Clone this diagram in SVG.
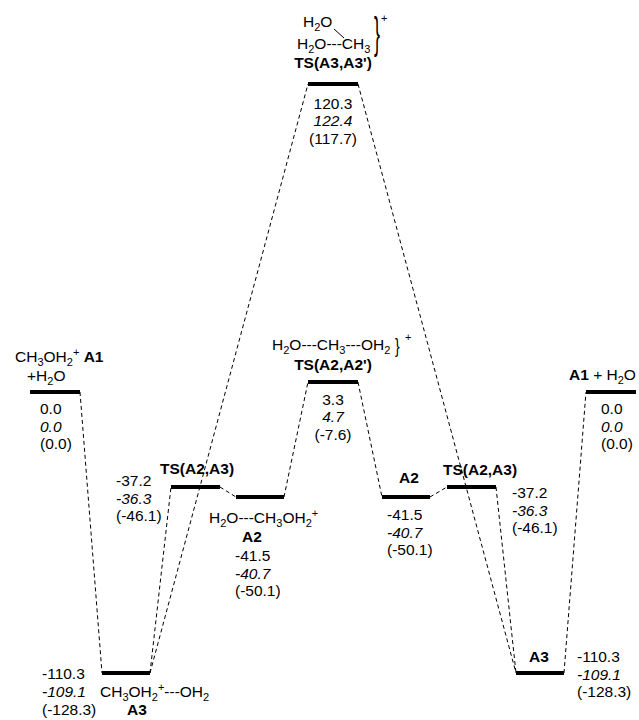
<svg xmlns="http://www.w3.org/2000/svg" width="639" height="720" viewBox="0 0 639 720">
<style>
text{font-family:"Liberation Sans",Arial,sans-serif;font-size:15.5px;fill:#000}
.b{font-weight:bold}
.i{font-style:italic}
.s{font-size:11px}
.m{text-anchor:middle}
.bar{stroke:#000;stroke-width:4;fill:none}
.d{stroke:#000;stroke-width:1;stroke-dasharray:4,3;fill:none}
</style>
<rect width="639" height="720" fill="#fff"/>
<g id="connectors">
<line class="d" x1="80" y1="392" x2="102" y2="673"/>
<line class="d" x1="150" y1="673" x2="171" y2="487"/>
<line class="d" x1="150" y1="673" x2="308" y2="84"/>
<line class="d" x1="220" y1="487" x2="236" y2="497"/>
<line class="d" x1="284" y1="497" x2="308" y2="382"/>
<line class="d" x1="358" y1="382" x2="382" y2="497"/>
<line class="d" x1="430" y1="497" x2="447" y2="487"/>
<line class="d" x1="496" y1="487" x2="516" y2="673"/>
<line class="d" x1="358" y1="84" x2="516" y2="673"/>
<line class="d" x1="564" y1="673" x2="586" y2="392"/>
</g>
<g id="A1-left">
<line class="bar" x1="30" y1="392" x2="80" y2="392"/>
<text x="15" y="362">CH<tspan class="s" dy="4">3</tspan><tspan dy="-4">OH</tspan><tspan class="s" dy="4">2</tspan><tspan class="s" dy="-10">+</tspan><tspan dy="6"> </tspan><tspan class="b">A1</tspan></text>
<text x="27" y="381">+H<tspan class="s" dy="4">2</tspan><tspan dy="-4">O</tspan></text>
<text x="40" y="414">0.0</text>
<text x="40" y="431.5" class="i">0.0</text>
<text x="40" y="449">(0.0)</text>
</g>
<g id="TS-A2-A3-left">
<line class="bar" x1="171" y1="487" x2="220" y2="487"/>
<text x="160" y="474" class="b">TS(A2,A3)</text>
<text x="116" y="486">-37.2</text>
<text x="116" y="503.5" class="i">-36.3</text>
<text x="116" y="521">(-46.1)</text>
</g>
<g id="A2-left">
<line class="bar" x1="236" y1="497" x2="284" y2="497"/>
<text x="209" y="523">H<tspan class="s" dy="4">2</tspan><tspan dy="-4">O---CH</tspan><tspan class="s" dy="4">3</tspan><tspan dy="-4">OH</tspan><tspan class="s" dy="4">2</tspan><tspan class="s" dy="-10">+</tspan></text>
<text x="252" y="542" class="b m">A2</text>
<text x="235" y="561">-41.5</text>
<text x="235" y="578.5" class="i">-40.7</text>
<text x="235" y="596">(-50.1)</text>
</g>
<g id="A3-left">
<line class="bar" x1="102" y1="673" x2="150" y2="673"/>
<text x="42" y="679">-110.3</text>
<text x="42" y="697" class="i">-109.1</text>
<text x="42" y="715">(-128.3)</text>
<text x="100" y="697">CH<tspan class="s" dy="4">3</tspan><tspan dy="-4">OH</tspan><tspan class="s" dy="4">2</tspan><tspan class="s" dy="-10">+</tspan><tspan dy="6">---OH</tspan><tspan class="s" dy="4">2</tspan></text>
<text x="127" y="715" class="b">A3</text>
</g>
<g id="TS-A3-A3p">
<line class="bar" x1="308" y1="84" x2="358" y2="84"/>
<text x="303" y="27">H<tspan class="s" dy="4">2</tspan><tspan dy="-4">O</tspan></text>
<text x="297" y="49">H<tspan class="s" dy="4">2</tspan><tspan dy="-4">O---CH</tspan><tspan class="s" dy="4">3</tspan></text>
<line x1="334" y1="29" x2="344" y2="38" stroke="#000" stroke-width="1"/>
<text transform="translate(374,48) scale(0.4,1)" style="font-size:45px">}</text>
<text x="381" y="22" class="s">+</text>
<text x="333" y="68" class="b m">TS(A3,A3')</text>
<text x="333" y="108.5" class="m">120.3</text>
<text x="333" y="126" class="m i">122.4</text>
<text x="333" y="143.5" class="m">(117.7)</text>
</g>
<g id="TS-A2-A2p">
<line class="bar" x1="308" y1="382" x2="358" y2="382"/>
<text x="272" y="350">H<tspan class="s" dy="4">2</tspan><tspan dy="-4">O---CH</tspan><tspan class="s" dy="4">3</tspan><tspan dy="-4">---OH</tspan><tspan class="s" dy="4">2</tspan></text>
<text transform="translate(395,353) scale(0.7,1)" style="font-size:20px">}</text>
<text x="405" y="341" class="s">+</text>
<text x="333" y="370" class="b m">TS(A2,A2')</text>
<text x="333" y="404.5" class="m">3.3</text>
<text x="333" y="422" class="m i">4.7</text>
<text x="333" y="439.5" class="m">(-7.6)</text>
</g>
<g id="A2-right">
<line class="bar" x1="382" y1="497" x2="430" y2="497"/>
<text x="399" y="483" class="b">A2</text>
<text x="387" y="520">-41.5</text>
<text x="387" y="537.5" class="i">-40.7</text>
<text x="387" y="555">(-50.1)</text>
</g>
<g id="TS-A2-A3-right">
<line class="bar" x1="447" y1="487" x2="496" y2="487"/>
<text x="443" y="475" class="b">TS(A2,A3)</text>
<text x="512" y="498">-37.2</text>
<text x="512" y="515.5" class="i">-36.3</text>
<text x="512" y="533">(-46.1)</text>
</g>
<g id="A3-right">
<line class="bar" x1="516" y1="673" x2="564" y2="673"/>
<text x="529" y="662" class="b">A3</text>
<text x="577" y="662">-110.3</text>
<text x="577" y="679.5" class="i">-109.1</text>
<text x="577" y="697">(-128.3)</text>
</g>
<g id="A1-right">
<line class="bar" x1="586" y1="392" x2="636" y2="392"/>
<text x="569" y="380"><tspan class="b">A1</tspan> + H<tspan class="s" dy="4">2</tspan><tspan dy="-4">O</tspan></text>
<text x="601" y="414">0.0</text>
<text x="601" y="431.5" class="i">0.0</text>
<text x="601" y="449">(0.0)</text>
</g>
</svg>
